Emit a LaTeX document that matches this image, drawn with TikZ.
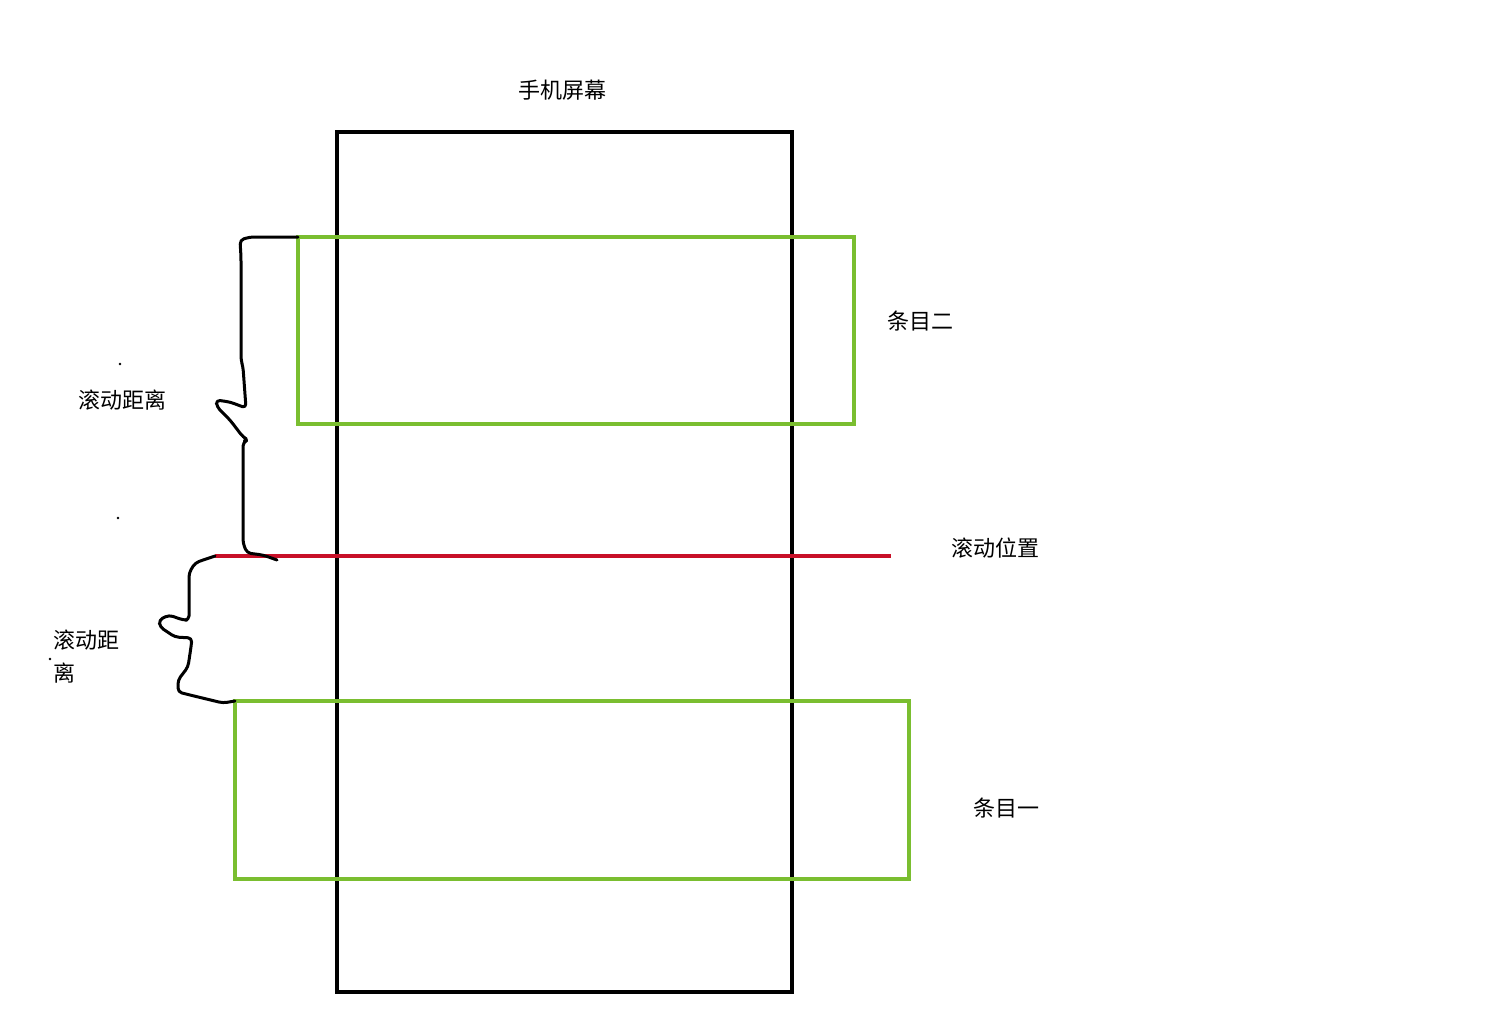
\documentclass[tikz,border=0pt]{standalone}
\usepackage{fontspec}
\setmainfont{Noto Sans CJK SC}
\begin{document}
\begin{tikzpicture}[x=0.5pt,y=-0.5pt,
  lbl/.style={font=\fontsize{11pt}{13pt}\selectfont, inner sep=0pt, text=black},
  frame/.style={draw=black, line width=2pt, inner sep=0pt, outer sep=0pt},
  itembox/.style={draw=itemgreen, line width=2pt, inner sep=0pt, outer sep=0pt},
  hand/.style={draw=black, line width=1.5pt, rounded corners=2pt, line join=round, line cap=round}]
\definecolor{itemgreen}{RGB}{122,190,48}
\definecolor{scrollred}{RGB}{200,16,40}
\path[use as bounding box, fill=white] (0,0) rectangle (1500,1035);
% phone screen
\node[frame, minimum width=227.5pt, minimum height=430pt] (screen) at (564.5,562) {};
% items
\node[itembox, minimum width=278pt, minimum height=93.5pt] (item2) at (576,330.5) {};
\node[itembox, minimum width=337pt, minimum height=89pt] (item1) at (572,790) {};
% scroll position line
\coordinate (redL) at (215,556);
\coordinate (redR) at (891,556);
\draw[draw=scrollred, line width=2pt] (redL) -- (redR);
% labels
\node[lbl] (tscreen) at (562,90) {手机屏幕};
\node[lbl] (t2) at (920,321) {条目二};
\node[lbl] (tpos) at (995,548) {滚动位置};
\node[lbl] (t1) at (1006,808) {条目一};
\node[lbl] (td1) at (122,400) {滚动距离};
\node[lbl, anchor=west] (td2a) at (53,640) {滚动距};
\node[lbl, anchor=west] (td2b) at (53,673) {离};
% dots
\fill (120,364) circle (0.7pt);
\fill (118,518) circle (0.7pt);
\fill (50,659) circle (0.7pt);
% hand-drawn brace 1
\coordinate (b1s) at (item2.north west);
\draw[hand] (b1s) -- (265,237) -- (250,237) -- (240,240) -- (241,257) -- (241,360) -- (243,367) -- (246,408) -- (230,402) -- (216,400) -- (217,407) -- (230,420) -- (243,437) -- (248,440) -- (243,442) -- (243,543) -- (247,553) -- (263,555) -- (277,560);
% hand-drawn brace 2
\coordinate (b2e) at (item1.north west);
\draw[hand] (redL) -- (203,560) -- (195,563) -- (189,573) -- (189,620) -- (183,620) -- (169,615) -- (159,620) -- (160,627) -- (175,637) -- (192,638) -- (191,647) -- (188,667) -- (178,680) -- (178,692) -- (190,695) -- (223,703) -- (b2e);
\end{tikzpicture}
\end{document}
